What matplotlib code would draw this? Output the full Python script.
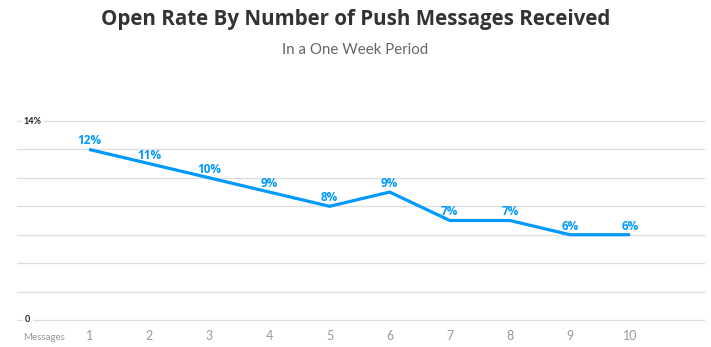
import matplotlib
matplotlib.use("Agg")
import matplotlib.pyplot as plt

# データ
messages = [1, 2, 3, 4, 5, 6, 7, 8, 9, 10]
open_rate = [12, 11, 10, 9, 8, 9, 7, 7, 6, 6]
tick_labels = [str(m) for m in messages]

blue = '#0099ff'
plt.rcParams['font.family'] = ['Lato', 'DejaVu Sans']

fig = plt.figure(figsize=(7.11, 3.47), dpi=100)
ax = fig.add_axes([17 / 711, 27 / 347, 687 / 711, 199 / 347])

# 折れ線
ax.plot(messages, open_rate, color=blue, linewidth=2.3, solid_capstyle='butt', zorder=3)

# 値ラベル
for x, y in zip(messages, open_rate):
    ax.annotate(f'{y}%', (x, y), xytext=(0, 1.5), textcoords='offset points',
                ha='center', va='bottom', color=blue, fontsize=8.5, fontweight='bold', zorder=4,
                family=['Open Sans', 'DejaVu Sans'])

ax.set_xlim(-0.2, 11.23)
ax.set_ylim(0, 14)

# 横グリッド
for g in range(0, 15, 2):
    ax.axhline(g, color='#dddddd', linewidth=0.9, zorder=1, clip_on=False)

for s in ax.spines.values():
    s.set_visible(False)
ax.set_yticks([])
ax.set_xticks(messages)
ax.set_xticklabels(tick_labels, color='#999999', fontsize=9)
ax.tick_params(axis='x', length=0, pad=7)

# y軸の端ラベル
ax.text(0.010, 14, '14%', transform=ax.get_yaxis_transform(), ha='left', va='center',
        fontsize=6.5, fontweight='bold', color='#222222',
        bbox=dict(facecolor='white', edgecolor='none', pad=1.5), zorder=5)
ax.text(0.012, 0, '0', transform=ax.get_yaxis_transform(), ha='left', va='center',
        fontsize=6.5, fontweight='bold', color='#222222',
        bbox=dict(facecolor='white', edgecolor='none', pad=1.5), zorder=5)
fig.text(44 / 711, 1 - 337 / 347, 'Messages', ha='center', va='center', fontsize=7, color='#999999')

# タイトル
fig.text(0.5, 1 - 19 / 347, 'Open Rate By Number of Push Messages Received', ha='center', va='center',
         fontsize=14.8, fontweight='bold', color='#333333', family=['Open Sans', 'DejaVu Sans'])
fig.text(0.5, 1 - 50 / 347, 'In a One Week Period', ha='center', va='center',
         fontsize=10.8, color='#666666')

plt.savefig('out.png', dpi=100)
